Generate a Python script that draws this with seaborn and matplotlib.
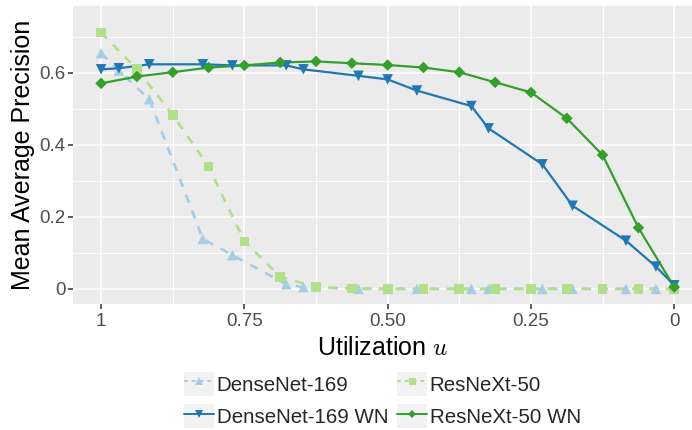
import numpy as np
import pandas as pd
import matplotlib
matplotlib.use("Agg")
import matplotlib.pyplot as plt
from matplotlib.lines import Line2D
from matplotlib.patches import Rectangle
from matplotlib.legend_handler import HandlerLine2D
import seaborn as sns

# Utilization levels for each network family
densenet_u = [1.0, 0.969, 0.916, 0.8225, 0.771, 0.677, 0.647, 0.551, 0.5,
              0.449, 0.354, 0.324, 0.23, 0.1775, 0.0843, 0.032, 0.0]
resnext_u = [1.0, 0.9375, 0.875, 0.8125, 0.75, 0.6875, 0.625, 0.5625, 0.5,
             0.4375, 0.375, 0.3125, 0.25, 0.1875, 0.125, 0.0625, 0.0]

# Mean average precision per model
densenet_map = [0.655, 0.607, 0.527, 0.139, 0.094, 0.013, 0.005, 0.0, 0.0,
                0.0, 0.0, 0.0, 0.0, 0.0, 0.0, 0.0, 0.0]
densenet_wn_map = [0.610, 0.613, 0.624, 0.624, 0.621, 0.621, 0.610, 0.592, 0.582,
                   0.551, 0.508, 0.446, 0.346, 0.231, 0.134, 0.062, 0.010]
resnext_map = [0.712, 0.610, 0.484, 0.340, 0.132, 0.034, 0.005, 0.001, 0.0,
               0.0, 0.0, 0.0, 0.0, 0.0, 0.0, 0.0, 0.0]
resnext_wn_map = [0.571, 0.590, 0.602, 0.615, 0.621, 0.629, 0.632, 0.627, 0.622,
                  0.615, 0.602, 0.574, 0.546, 0.474, 0.372, 0.170, 0.005]

models = ["DenseNet-169", "DenseNet-169 WN", "ResNeXt-50", "ResNeXt-50 WN"]
baseline_models = ["DenseNet-169", "ResNeXt-50"]
wn_models = ["DenseNet-169 WN", "ResNeXt-50 WN"]
x_ticks = [1.0, 0.75, 0.5, 0.25, 0.0]
x_tick_labels = ["1", "0.75", "0.50", "0.25", "0"]
y_ticks = [0.0, 0.2, 0.4, 0.6]
y_tick_labels = ["0", "0.2", "0.4", "0.6"]

palette = {"DenseNet-169": "#A6CEE3", "DenseNet-169 WN": "#1F78B4",
           "ResNeXt-50": "#B2DF8A", "ResNeXt-50 WN": "#33A02C"}
markers = {"DenseNet-169": "^", "DenseNet-169 WN": "v",
           "ResNeXt-50": "s", "ResNeXt-50 WN": "D"}
marker_sizes = {"DenseNet-169": 7.6, "DenseNet-169 WN": 7.6,
                "ResNeXt-50": 7.0, "ResNeXt-50 WN": 5.9}

frames = [
    pd.DataFrame({"u": densenet_u, "mAP": densenet_map, "model": models[0]}),
    pd.DataFrame({"u": densenet_u, "mAP": densenet_wn_map, "model": models[1]}),
    pd.DataFrame({"u": resnext_u, "mAP": resnext_map, "model": models[2]}),
    pd.DataFrame({"u": resnext_u, "mAP": resnext_wn_map, "model": models[3]}),
]
df = pd.concat(frames, ignore_index=True)

sns.set_theme(style="darkgrid")
plt.rcParams["font.family"] = ["Liberation Sans", "DejaVu Sans"]
plt.rcParams["mathtext.fontset"] = "cm"

fig = plt.figure(figsize=(6.92, 4.3), dpi=100)
ax = fig.add_axes([73 / 692, 1 - 304 / 430, (692 - 73) / 692, (304 - 6) / 430])
ax.set_facecolor("#EBEBEB")

# dashed baselines and solid WN curves, then the points on top
sns.lineplot(data=df[df["model"].isin(baseline_models)], x="u", y="mAP",
             hue="model", hue_order=baseline_models, palette=palette,
             estimator=None, sort=False, linewidth=1.9, dashes=False,
             linestyle=(0, (3.2, 3.2)), legend=False, ax=ax)
sns.lineplot(data=df[df["model"].isin(wn_models)], x="u", y="mAP",
             hue="model", hue_order=wn_models, palette=palette,
             estimator=None, sort=False, linewidth=1.6, legend=False, ax=ax)
sns.scatterplot(data=df, x="u", y="mAP", hue="model", style="model",
                size="model", hue_order=models, style_order=models,
                size_order=models, palette=palette, markers=markers,
                sizes={k: v ** 2 for k, v in marker_sizes.items()},
                linewidth=0, legend=False, ax=ax, zorder=3)

ax.set_xlim(1.049, -0.031)
ax.set_ylim(-0.042, 0.786)
ax.set_xticks(x_ticks)
ax.set_xticklabels(x_tick_labels)
ax.set_yticks(y_ticks)
ax.set_yticklabels(y_tick_labels)
ax.set_xticks([0.875, 0.625, 0.375, 0.125], minor=True)
ax.set_yticks([0.1, 0.3, 0.5, 0.7], minor=True)

ax.grid(which="major", color="white", linewidth=1.1)
ax.grid(which="minor", color="white", linewidth=0.6)
ax.set_axisbelow(True)
for s in ax.spines.values():
    s.set_visible(False)

ax.tick_params(which="major", direction="out", length=3.5, width=1.1,
               color="#333333", labelcolor="#4D4D4D", labelsize=13.5,
               bottom=True, left=True)
ax.tick_params(axis="x", which="major", pad=3)
ax.tick_params(axis="y", which="major", pad=2)
ax.tick_params(which="minor", length=0, bottom=False, left=False)

ax.set_xlabel("Utilization $u$", fontsize=18, color="black", labelpad=4)
ax.set_ylabel("Mean Average Precision", fontsize=18, color="black", labelpad=3)


class KeyHandler(HandlerLine2D):
    """Legend key drawn on a light grey tile."""

    def create_artists(self, legend, orig_handle, xdescent, ydescent,
                       width, height, fontsize, trans):
        bg = Rectangle((-xdescent, -ydescent), width, height,
                       facecolor="#F2F2F2", edgecolor="none", transform=trans)
        arts = super().create_artists(legend, orig_handle, xdescent, ydescent,
                                      width, height, fontsize, trans)
        return [bg] + list(arts)


handles = []
for m in models:
    ls = (0, (2, 2)) if m in baseline_models else "-"
    handles.append(Line2D([], [], color=palette[m], linestyle=ls, linewidth=1.4,
                          marker=markers[m], markersize=marker_sizes[m] * 0.72,
                          markeredgewidth=0, label=m))

fig.legend(handles=handles, labels=models, loc="center",
           bbox_to_anchor=(382.5 / 692, 1 - 400 / 430), ncol=2,
           frameon=False, fontsize=14.8, handlelength=1.45, handleheight=1.4,
           handletextpad=0.12, columnspacing=0.45, labelspacing=0.42,
           borderpad=0, numpoints=1,
           handler_map={Line2D: KeyHandler(marker_pad=0, numpoints=1)})

fig.savefig("out.png", dpi=100)
